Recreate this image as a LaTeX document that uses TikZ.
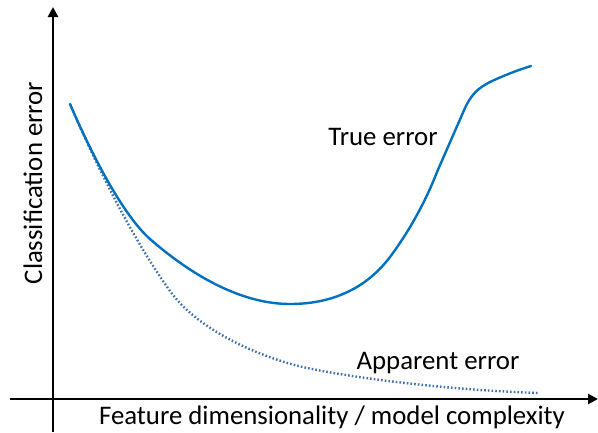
\documentclass[tikz,border=0pt]{standalone}
\usepackage{fontspec}
\setmainfont{Carlito}
\usetikzlibrary{arrows.meta}
\definecolor{trueblue}{RGB}{0,112,192}
\definecolor{appblue}{RGB}{64,112,170}
\tikzset{
  axisline/.style={line width=2.6pt,-{Triangle[length=10pt,width=10pt]}},
  truecurve/.style={trueblue,line width=2.4pt,line cap=round,line join=round},
  appcurve/.style={appblue,line width=2.4pt,dash pattern=on 1.6pt off 2.1pt},
  lbl/.style={font=\fontsize{26.8}{30}\selectfont,inner sep=0pt,anchor=base}
}
\begin{document}
\begin{tikzpicture}[x=1pt,y=-1pt]
\useasboundingbox (0,0) rectangle (598,432);
\coordinate (ybot) at (53,432);
\coordinate (ytop) at (53,7);
\coordinate (xl) at (10,399);
\coordinate (xr) at (598,399);
\draw[axisline] (ybot) -- (ytop);
\draw[axisline] (xl) -- (xr);
% apparent error (dotted)
\draw[appcurve] (70,104) .. controls (95,162) and (130,235) .. (170,291)
  .. controls (200,333) and (267,359.5) .. (307,368)
  .. controls (360,379) and (450,390) .. (538,393);
% true error
\draw[truecurve] (70,104) .. controls (95,162) and (125,217) .. (150,239)
  .. controls (190,274) and (240,304) .. (290,304)
  .. controls (330,304) and (365,290) .. (390,257)
  .. controls (408,233) and (425,203) .. (437,172)
  -- (465,108)
  .. controls (471,95) and (478,88) .. (490,82)
  .. controls (505,75) and (518,70) .. (531,66);
\node[lbl] (te) at (383,145) {True error};
\node[lbl] (ae) at (438,369) {Apparent error};
\node[lbl] (xlab) at (332,424) {Feature dimensionality / model complexity};
\node[lbl,rotate=90] (ylab) at (42,183) {Classification error};
\end{tikzpicture}
\end{document}
